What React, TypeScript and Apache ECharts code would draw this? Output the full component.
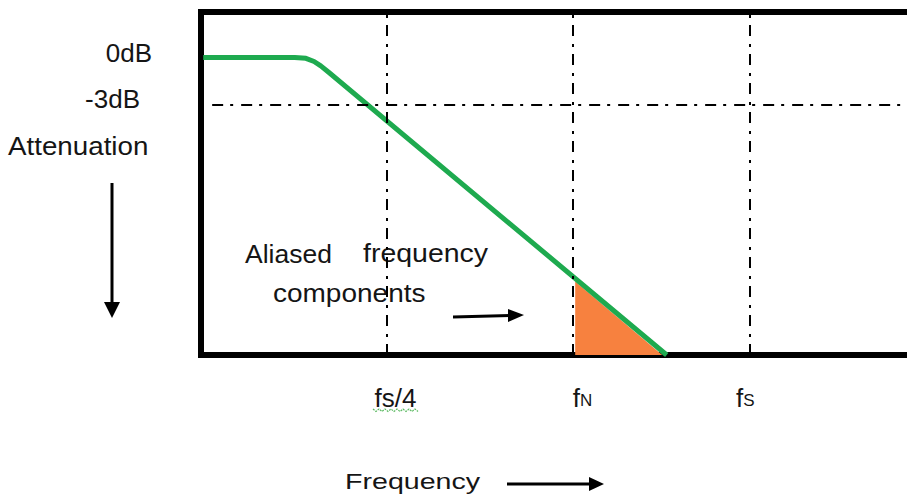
import { useEffect, useRef } from "react";
import * as echarts from "echarts";

// ---- data (schematic units: frequency axis units, attenuation in dB) ----
const rolloffFreq = [0.03, 1.26, 1.41, 1.52, 1.61, 1.72, 6.26];
const rolloffDb = [0, 0, -0.06, -0.26, -0.54, -0.96, -19];
const aliasFreq = [5.03, 6.2];
const aliasDb = [-14.3, -19];
const freqTickValues = [2.5, 5.0, 7.37];
const freqTickLabels = ["fs/4", "fN", "fS"];
const levelValues = [0, -3];
const levelLabels = ["0dB", "-3dB"];
const halfPowerDb = -3;
const halfPowerStart = 0.15;
const freqMin = 0;
const freqMax = 9.49;
const dbMin = -19;
const dbMax = 2.9;

const FONT = '"Liberation Sans", Arial, sans-serif';
const TEXT = "#151515";
const GREEN = "#1EAA4F";
const ORANGE = "#F7813F";
const DASH = [11, 7, 3, 8];
const BORDER = { show: true, onZero: false, lineStyle: { color: "#000", width: 6, cap: "square" } };

function freqLabel(value: number): string {
  const i = freqTickValues.findIndex((v) => Math.abs(v - value) < 1e-6);
  if (i < 0) return "";
  const lab = freqTickLabels[i];
  if (i === 0) return `{t0|${lab}}`;
  return `{t${i}|${lab[0]}}{s${i}|${lab.slice(1)}}`;
}

function levelLabel(value: number): string {
  const i = levelValues.findIndex((v) => Math.abs(v - value) < 1e-6);
  if (i < 0) return "";
  return `{l${i}|${levelLabels[i]}}`;
}

export default function App() {
  const ref = useRef<HTMLDivElement>(null);

  useEffect(() => {
    if (!ref.current) return;
    const chart = echarts.init(ref.current, undefined, { renderer: "svg" });

    const squiggle: number[][] = [];
    for (let k = 0; k <= 15; k++) squiggle.push([373 + k * 3, 409 + (k % 2) * 2.5]);

    const option: any = {
      animation: false,
      backgroundColor: "#ffffff",
      grid: { left: 201, top: 12, right: 0, bottom: 144 },
      xAxis: [
        {
          type: "value",
          min: freqMin,
          max: freqMax,
          position: "bottom",
          axisLine: BORDER,
          axisTick: { show: false },
          splitLine: { show: false },
          axisLabel: {
            customValues: freqTickValues,
            showMinLabel: true,
            showMaxLabel: true,
            margin: 30,
            formatter: freqLabel,
            color: TEXT,
            fontFamily: FONT,
            fontSize: 26,
            rich: {
              t0: { fontSize: 26, lineHeight: 26, fontFamily: FONT, color: TEXT, padding: [0, 0, 0, 17] },
              t1: { fontSize: 26, lineHeight: 26, fontFamily: FONT, color: TEXT, padding: [0, 0, 0, 19] },
              s1: { fontSize: 17, lineHeight: 17, fontFamily: FONT, color: TEXT, verticalAlign: "bottom", padding: [0, 0, 2, 0] },
              t2: { fontSize: 26, lineHeight: 26, fontFamily: FONT, color: TEXT },
              s2: { fontSize: 17, lineHeight: 17, fontFamily: FONT, color: TEXT, verticalAlign: "bottom", padding: [0, 8, 2, 0] },
            },
          },
        },
        {
          type: "value",
          min: freqMin,
          max: freqMax,
          position: "top",
          axisLine: BORDER,
          axisTick: { show: false },
          splitLine: { show: false },
          axisLabel: { show: false },
        },
      ],
      yAxis: {
        type: "value",
        min: dbMin,
        max: dbMax,
        axisLine: BORDER,
        axisTick: { show: false },
        splitLine: { show: false },
        axisLabel: {
          customValues: levelValues,
          margin: 49,
          formatter: levelLabel,
          color: TEXT,
          fontFamily: FONT,
          fontSize: 26,
          rich: {
            l0: { fontSize: 26, lineHeight: 26, fontFamily: FONT, color: TEXT, padding: [0, 0, 9, 0] },
            l1: { fontSize: 26, lineHeight: 26, fontFamily: FONT, color: TEXT, padding: [0, 12, 11, 0] },
          },
        },
      },
      series: [
        {
          name: "guides",
          type: "line",
          data: [],
          z: 1,
          silent: true,
          markLine: {
            silent: true,
            symbol: "none",
            label: { show: false },
            lineStyle: { color: "#000", width: 2, type: DASH },
            data: [
              ...freqTickValues.map((v) => ({ xAxis: v })),
              [{ coord: [halfPowerStart, halfPowerDb] }, { coord: [freqMax, halfPowerDb] }],
            ],
          },
        },
        {
          name: "aliased",
          type: "line",
          z: 2,
          silent: true,
          symbol: "none",
          data: aliasFreq.map((f, i) => [f, aliasDb[i]]),
          lineStyle: { width: 0 },
          areaStyle: { color: ORANGE, opacity: 1, origin: "start" },
        },
        {
          name: "filter",
          type: "line",
          z: 3,
          silent: true,
          symbol: "none",
          data: rolloffFreq.map((f, i) => [f, rolloffDb[i]]),
          lineStyle: { color: GREEN, width: 5, cap: "butt", join: "round" },
        },
      ],
      graphic: [
        {
          type: "text",
          x: 8,
          y: 146,
          scaleX: 1.11,
          style: { text: "Attenuation", fontSize: 25, fontFamily: FONT, fill: TEXT, align: "left", verticalAlign: "middle" },
        },
        {
          type: "text",
          x: 245,
          y: 254,
          scaleX: 1.06,
          style: { text: "Aliased", fontSize: 25, fontFamily: FONT, fill: TEXT, align: "left", verticalAlign: "middle" },
        },
        {
          type: "text",
          x: 363,
          y: 254,
          scaleX: 1.14,
          style: { text: "frequency", fontSize: 25, fontFamily: FONT, fill: TEXT, align: "left", verticalAlign: "middle" },
        },
        {
          type: "text",
          x: 273,
          y: 294,
          scaleX: 1.12,
          style: { text: "components", fontSize: 25, fontFamily: FONT, fill: TEXT, align: "left", verticalAlign: "middle" },
        },
        {
          type: "text",
          x: 345,
          y: 481,
          scaleX: 1.3,
          style: { text: "Frequency", fontSize: 22, fontFamily: FONT, fill: TEXT, align: "left", verticalAlign: "middle" },
        },
        // vertical attenuation arrow
        { type: "line", shape: { x1: 112, y1: 183, x2: 112, y2: 304 }, style: { stroke: "#000", lineWidth: 3 } },
        { type: "polygon", shape: { points: [[104, 302], [120, 302], [112, 318]] }, style: { fill: "#000" } },
        // aliased components arrow
        { type: "line", shape: { x1: 453, y1: 317, x2: 511, y2: 315.4 }, style: { stroke: "#000", lineWidth: 3 } },
        { type: "polygon", shape: { points: [[508, 309], [508, 322], [524, 315]] }, style: { fill: "#000" } },
        // frequency arrow
        { type: "line", shape: { x1: 507, y1: 484, x2: 592, y2: 484 }, style: { stroke: "#000", lineWidth: 3 } },
        { type: "polygon", shape: { points: [[589, 477], [589, 491], [604, 484]] }, style: { fill: "#000" } },
        // spell-check squiggle under fs/4
        { type: "polyline", shape: { points: squiggle }, style: { stroke: "#5DBB63", lineWidth: 1.2, fill: "none", lineDash: [2, 1] } },
      ],
    };

    chart.setOption(option);
    return () => chart.dispose();
  }, []);

  return (
    <div
      ref={ref}
      style={{ position: "fixed", left: 0, top: 0, width: 907, height: 499, background: "#fff" }}
    />
  );
}
